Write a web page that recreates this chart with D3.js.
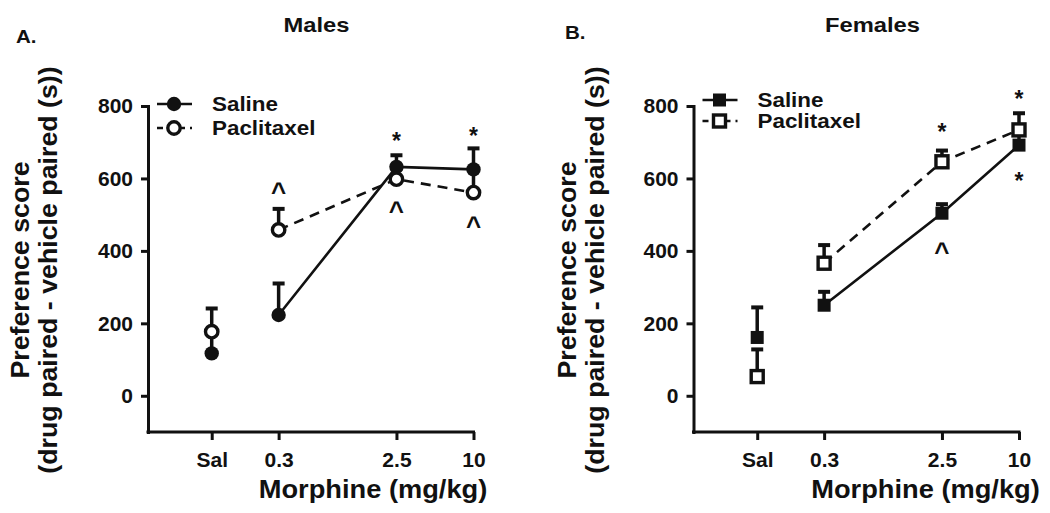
<!DOCTYPE html>
<html>
<head>
<meta charset="utf-8">
<script src="https://cdn.jsdelivr.net/npm/d3@7/dist/d3.min.js"></script>
<style>
  html, body { margin: 0; padding: 0; background: #fff; }
  svg text { font-family: "Liberation Sans", Arial, Helvetica, sans-serif; font-weight: bold; fill: #111; }
</style>
</head>
<body>
<svg id="chart" width="1050" height="513"></svg>
<script>
// ---------- data ----------
const doses = [0.09, 0.3, 2.5, 10];
const doseLabels = ["Sal", "0.3", "2.5", "10"];
const yTicks = [0, 200, 400, 600, 800];
const seriesNames = ["Saline", "Paclitaxel"];

const maleSaline = [117, 223, 632, 625];
const maleSalineSem = [55, 87, 32, 58];
const malePaclitaxel = [177, 458, 598, 561];
const malePaclitaxelSem = [64, 58, 30, 65];

const femaleSaline = [161, 250, 504, 692];
const femaleSalineSem = [83, 37, 25, 30];
const femalePaclitaxel = [53, 366, 646, 734];
const femalePaclitaxelSem = [75, 50, 31, 46];

const maleMarks = [
  {dose: 0.3, v: 573, s: "^"},
  {dose: 2.5, v: 720, s: "*"},
  {dose: 2.5, v: 522, s: "^"},
  {dose: 10, v: 734, s: "*"},
  {dose: 10, v: 480, s: "^"}
];
const femaleMarks = [
  {dose: 2.5, v: 743, s: "*"},
  {dose: 2.5, v: 408, s: "^"},
  {dose: 10, v: 835, s: "*"},
  {dose: 10, v: 610, s: "*"}
];

// ---------- layout ----------
const panels = [
  {letter: "A.", title: "Males", shape: "circle", left: 148, right: 473.5,
   sal: maleSaline, salSem: maleSalineSem, pac: malePaclitaxel, pacSem: malePaclitaxelSem, marks: maleMarks,
   letterX: 16, letterY: 43, titleX: 316.5, xLabelX: 373, yl1: 28.5, yl2: 57, legY1: 104, legY2: 128},
  {letter: "B.", title: "Females", shape: "square", left: 693.5, right: 1019,
   sal: femaleSaline, salSem: femaleSalineSem, pac: femalePaclitaxel, pacSem: femalePaclitaxelSem, marks: femaleMarks,
   letterX: 565, letterY: 39, titleX: 872.5, xLabelX: 925.5, yl1: 575.5, yl2: 604, legY1: 100, legY2: 121}
];

const svg = d3.select("#chart");
const yScale = d3.scaleLinear().domain([-100, 800]).range([432, 106]);

function stretch(sel, k) {
  sel.each(function () {
    const w = this.getComputedTextLength();
    d3.select(this).attr("textLength", w * k).attr("lengthAdjust", "spacingAndGlyphs");
  });
}

function drawMarker(g, shape, filled, cx, cy) {
  if (shape === "circle") {
    g.append("circle").attr("cx", cx).attr("cy", cy)
      .attr("r", filled ? 7.2 : 6.2)
      .attr("fill", filled ? "#111" : "#fff")
      .attr("stroke", "#111").attr("stroke-width", filled ? 0 : 3.4);
  } else {
    const s = filled ? 13 : 12;
    g.append("rect").attr("x", cx - s / 2).attr("y", cy - s / 2)
      .attr("width", s).attr("height", s)
      .attr("fill", filled ? "#111" : "#fff")
      .attr("stroke", "#111").attr("stroke-width", filled ? 0 : 3.4);
  }
}

panels.forEach(p => {
  const g = svg.append("g");
  const x = d3.scaleLog().domain([0.0286, 10]).range([p.left, p.right]);

  // axes
  const yAxis = d3.axisLeft(yScale).tickValues(yTicks).tickSize(7).tickSizeOuter(0).tickFormat(d3.format("d"));
  const ya = g.append("g").attr("transform", `translate(${p.left},0)`).call(yAxis);
  ya.select(".domain").attr("stroke", "#111").attr("stroke-width", 3);
  ya.selectAll(".tick line").attr("stroke", "#111").attr("stroke-width", 3);
  ya.selectAll(".tick text").attr("x", -15).attr("font-size", 21).attr("fill", "#111");

  const xAxis = d3.axisBottom(x).tickValues(doses).tickSize(8).tickSizeOuter(0)
    .tickFormat((d, i) => doseLabels[i]);
  const xa = g.append("g").attr("transform", `translate(0,${yScale(-100)})`).call(xAxis);
  xa.select(".domain").attr("stroke", "#111").attr("stroke-width", 3)
    .attr("d", `M${p.left},0H${p.right}`);
  xa.selectAll(".tick line").attr("stroke", "#111").attr("stroke-width", 3);
  xa.selectAll(".tick text").attr("y", 35).attr("dy", 0).attr("font-size", 21).attr("fill", "#111");
  g.selectAll(".domain").attr("stroke-linecap", "square");

  // lines (connect morphine doses only)
  const line = d3.line().x(d => x(d[0])).y(d => yScale(d[1]));
  const salPts = doses.map((d, i) => [d, p.sal[i]]).slice(1);
  const pacPts = doses.map((d, i) => [d, p.pac[i]]).slice(1);
  g.append("path").attr("d", line(salPts)).attr("fill", "none").attr("stroke", "#111").attr("stroke-width", 2.6);
  g.append("path").attr("d", line(pacPts)).attr("fill", "none").attr("stroke", "#111").attr("stroke-width", 2.6)
    .attr("stroke-dasharray", "10,7");

  // error bars (upper only)
  function errBars(vals, sems) {
    vals.forEach((v, i) => {
      const cx = x(doses[i]);
      const top = yScale(v + sems[i]);
      g.append("line").attr("x1", cx).attr("x2", cx).attr("y1", yScale(v)).attr("y2", top)
        .attr("stroke", "#111").attr("stroke-width", 3.5);
      g.append("line").attr("x1", cx - 6).attr("x2", cx + 6).attr("y1", top).attr("y2", top)
        .attr("stroke", "#111").attr("stroke-width", 4);
    });
  }
  errBars(p.sal, p.salSem);
  errBars(p.pac, p.pacSem);

  p.sal.forEach((v, i) => drawMarker(g, p.shape, true, x(doses[i]), yScale(v)));
  p.pac.forEach((v, i) => drawMarker(g, p.shape, false, x(doses[i]), yScale(v)));

  // significance marks
  p.marks.forEach(m => {
    const star = m.s === "*";
    g.append("text").attr("x", x(m.dose)).attr("y", yScale(m.v))
      .attr("dy", star ? "0.6em" : "0.5em")
      .attr("text-anchor", "middle").attr("font-size", star ? 23 : 26).text(m.s);
  });

  // legend
  const lx0 = p.left + 9, lx1 = p.left + 44, lm = p.left + 26;
  g.append("line").attr("x1", lx0).attr("x2", lx1).attr("y1", p.legY1).attr("y2", p.legY1)
    .attr("stroke", "#111").attr("stroke-width", 2.6);
  drawMarker(g, p.shape, true, lm, p.legY1);
  g.append("line").attr("x1", lx0).attr("x2", lx1).attr("y1", p.legY2).attr("y2", p.legY2)
    .attr("stroke", "#111").attr("stroke-width", 2.6).attr("stroke-dasharray", "6,5");
  drawMarker(g, p.shape, false, lm, p.legY2);
  g.append("text").attr("x", p.left + 64).attr("y", p.legY1 + 6.5).attr("font-size", 20).text(seriesNames[0]).call(stretch, 1.12);
  g.append("text").attr("x", p.left + 64).attr("y", p.legY2 + 7).attr("font-size", 20).text(seriesNames[1]).call(stretch, 1.12);

  // titles & labels
  g.append("text").attr("x", p.titleX).attr("y", 31.5).attr("text-anchor", "middle")
    .attr("font-size", 21).text(p.title).call(stretch, 1.13);
  g.append("text").attr("x", p.letterX).attr("y", p.letterY).attr("font-size", 19).text(p.letter).call(stretch, 1.08);
  g.append("text").attr("x", p.xLabelX).attr("y", 498).attr("text-anchor", "middle")
    .attr("font-size", 25).text("Morphine (mg/kg)").call(stretch, 1.09);
  g.append("text").attr("transform", `translate(${p.yl1},270) rotate(-90)`).attr("text-anchor", "middle")
    .attr("font-size", 25).text("Preference score").call(stretch, 1.07);
  g.append("text").attr("transform", `translate(${p.yl2},270) rotate(-90)`).attr("text-anchor", "middle")
    .attr("font-size", 25).text("(drug paired - vehicle paired (s))").call(stretch, 1.07);
});
</script>
</body>
</html>
